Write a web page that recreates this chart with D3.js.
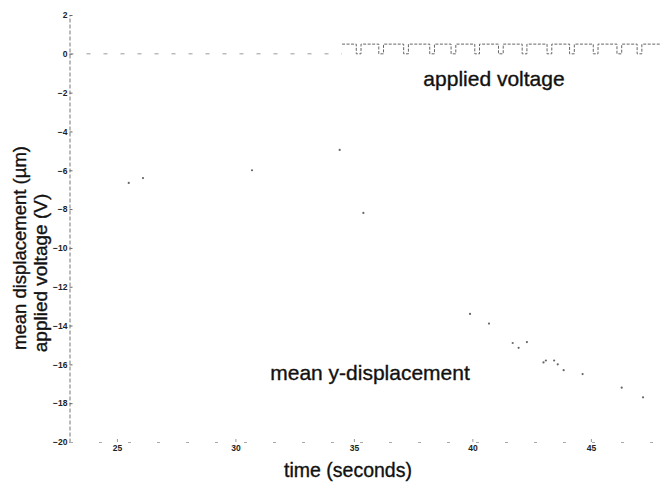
<!DOCTYPE html>
<html>
<head>
<meta charset="utf-8">
<script src="https://cdn.jsdelivr.net/npm/d3@7"></script>
<style>
  body { margin: 0; background: #fff; }
  svg { display: block; font-family: "Liberation Sans", Arial, sans-serif; }
  .tick text { font-size: 8.5px; font-weight: bold; fill: #222; }
  .label { fill: #111; stroke: #111; stroke-width: 0.35; }
</style>
</head>
<body>
<div class="chart-container"></div>
<script>
const width = 660;
const height = 485;

// Axis ticks
const xTicks = [25, 30, 35, 40, 45];
const yTicks = [2, 0, -2, -4, -6, -8, -10, -12, -14, -16, -18, -20];

// Applied voltage before switching on (V)
const baseTimes = [23, 34.5];
const baseVolts = [0, 0];

// Applied voltage square wave (step-after points)
const waveTimes = [34.5, 35.1, 35.3, 36.05, 36.25, 37.1, 37.3, 38.2, 38.4, 39.1, 39.3,
  40.1, 40.3, 41.1, 41.3, 42.1, 42.3, 43.15, 43.35, 44.1, 44.3, 45.1, 45.3, 46.1, 46.3,
  46.95, 47.15, 48];
const waveVolts = [0.5, 0, 0.5, 0, 0.5, 0, 0.5, 0, 0.5, 0, 0.5,
  0, 0.5, 0, 0.5, 0, 0.5, 0, 0.5, 0, 0.5, 0, 0.5, 0, 0.5,
  0, 0.5, 0.5];

// Mean y-displacement samples (seconds, µm)
const dispTimes = [25.5, 26.1, 30.7, 34.4, 35.4, 39.9, 40.7, 41.7, 41.95, 42.3,
  43.0, 43.1, 43.45, 43.6, 43.85, 44.65, 46.3, 47.2];
const dispValues = [-6.65, -6.4, -6.0, -4.95, -8.2, -13.4, -13.9, -14.9, -15.15, -14.85,
  -15.9, -15.8, -15.8, -16.0, -16.3, -16.5, -17.2, -17.7];

const x = d3.scaleLinear().domain([23, 48]).range([69.5, 662]);
const y = d3.scaleLinear().domain([-20, 2]).range([442, 15]);

const svg = d3.select('.chart-container')
  .append('svg')
  .attr('width', width)
  .attr('height', height);

// Left axis, dashed like the scanned original
const yAxis = svg.append('g')
  .attr('transform', `translate(${x(23)},0)`)
  .call(d3.axisLeft(y).tickValues(yTicks).tickSizeInner(-3).tickSizeOuter(0).tickPadding(2));
yAxis.select('.domain').attr('stroke', '#777').attr('stroke-dasharray', '4,2');
yAxis.selectAll('.tick line').attr('stroke', '#666');

// Bottom axis, mostly faded
const xAxis = svg.append('g')
  .attr('transform', `translate(0,${y(-20)})`)
  .call(d3.axisBottom(x).tickValues(xTicks).tickSizeInner(-3).tickSizeOuter(0).tickPadding(3));
xAxis.select('.domain').attr('stroke', '#aaa').attr('stroke-dasharray', '3,26');
xAxis.selectAll('.tick line').attr('stroke', '#999');

// Voltage lines
const line = d3.line()
  .x(d => x(d[0]))
  .y(d => y(d[1]))
  .curve(d3.curveStepAfter);

svg.append('path')
  .datum(d3.zip(baseTimes, baseVolts))
  .attr('fill', 'none')
  .attr('stroke', '#999')
  .attr('stroke-width', 1)
  .attr('stroke-dasharray', '4,13')
  .attr('d', line);

svg.append('path')
  .datum(d3.zip(waveTimes, waveVolts))
  .attr('fill', 'none')
  .attr('stroke', '#666')
  .attr('stroke-width', 1)
  .attr('stroke-dasharray', '3,1.5')
  .attr('d', line);

// Displacement points
svg.append('g')
  .selectAll('circle')
  .data(d3.zip(dispTimes, dispValues))
  .enter()
  .append('circle')
  .attr('cx', d => x(d[0]))
  .attr('cy', d => y(d[1]))
  .attr('r', 1.1)
  .attr('fill', '#666');

// Labels
svg.append('text')
  .attr('class', 'label')
  .attr('x', 494).attr('y', 86)
  .attr('text-anchor', 'middle')
  .attr('font-size', 21)
  .text('applied voltage');

svg.append('text')
  .attr('class', 'label')
  .attr('x', 370).attr('y', 380)
  .attr('text-anchor', 'middle')
  .attr('font-size', 21)
  .text('mean y-displacement');

svg.append('text')
  .attr('class', 'label')
  .attr('x', 348).attr('y', 477)
  .attr('text-anchor', 'middle')
  .attr('font-size', 19.5)
  .text('time (seconds)');

svg.append('text')
  .attr('class', 'label')
  .attr('transform', 'translate(26,248) rotate(-90)')
  .attr('text-anchor', 'middle')
  .attr('font-size', 18.5)
  .text('mean displacement (µm)');

svg.append('text')
  .attr('class', 'label')
  .attr('transform', 'translate(47,273) rotate(-90)')
  .attr('text-anchor', 'middle')
  .attr('font-size', 19)
  .text('applied voltage (V)');
</script>
</body>
</html>
